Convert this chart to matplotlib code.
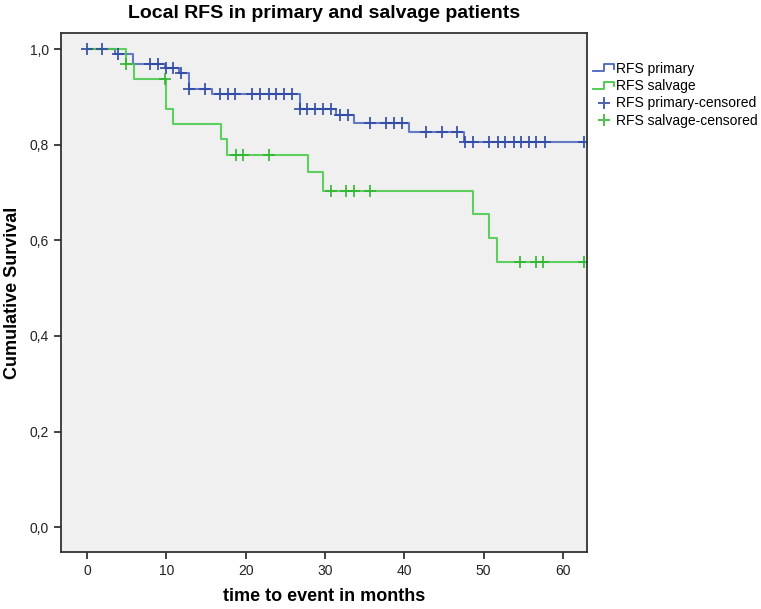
import numpy as np
import matplotlib
matplotlib.use("Agg")
import matplotlib.pyplot as plt
from matplotlib.legend_handler import HandlerBase
from matplotlib.lines import Line2D

plt.rcParams["font.family"] = ["Liberation Sans", "DejaVu Sans"]

# step times (months) and survival after each step
primary_t = [0, 3.5, 5.85, 9.8, 11.6, 12.8, 15.8, 26.8, 31.4, 33.6, 40.6, 47.5]
primary_s = [1.0, 0.99, 0.969, 0.96, 0.95, 0.916, 0.906, 0.875, 0.862, 0.846, 0.827, 0.806]
primary_cens = [0, 1.9, 3.95, 7.9, 8.9, 10.0, 10.9, 11.8, 12.8, 14.9, 16.8, 17.8, 18.7,
                20.8, 21.8, 22.9, 23.8, 24.8, 25.8, 26.8, 27.7, 28.75, 29.8, 30.8,
                31.9, 32.9, 35.7, 37.7, 38.75, 39.7, 42.7, 44.7, 46.6, 47.6, 48.6,
                50.7, 51.8, 52.7, 53.8, 54.7, 55.7, 56.6, 57.7, 62.6]

salvage_t = [0, 4.9, 5.9, 9.9, 10.9, 16.9, 17.7, 27.8, 29.8, 48.6, 50.65, 51.7]
salvage_s = [1.0, 0.969, 0.937, 0.875, 0.843, 0.811, 0.778, 0.742, 0.704, 0.655, 0.604, 0.554]
salvage_cens = [4.9, 9.8, 18.75, 19.7, 22.9, 30.8, 32.7, 33.7, 35.7, 54.6, 56.6, 57.5, 62.6]

end_time = 62.6

blue = "#4a64bd"
blue_dark = "#2d47a3"
green = "#45c845"
green_dark = "#2fb52f"


def surv_at(times, surv, t):
    idx = np.searchsorted(times, t, side="right") - 1
    return np.array(surv)[idx]


class StepHandler(HandlerBase):
    def create_artists(self, legend, orig, xd, yd, w, h, fontsize, trans):
        xs = np.array([0, 0.5, 0.5, 0.95, 0.95]) * w - xd
        ys = np.array([0.15, 0.15, 0.85, 0.85, 0.4]) * h - yd
        ln = Line2D(xs, ys, color=orig.get_color(), lw=1.3, transform=trans)
        return [ln]


fig = plt.figure(figsize=(7.61, 6.09), dpi=100)
ax = fig.add_axes([61 / 761, 1 - 552 / 609, 526 / 761, 519 / 609])
ax.set_facecolor("#f0f0f0")

pt = primary_t + [end_time]
ps = primary_s + [primary_s[-1]]
st = salvage_t + [end_time]
ss = salvage_s + [salvage_s[-1]]

l1, = ax.step(pt, ps, where="post", color=blue, lw=1.5, alpha=0.85)
l2, = ax.step(st, ss, where="post", color=green, lw=1.5, alpha=0.85)
c1, = ax.plot(primary_cens, surv_at(primary_t, primary_s, primary_cens), "+",
              color=blue_dark, ms=9, mew=1.4, alpha=0.85)
c2, = ax.plot(salvage_cens, surv_at(salvage_t, salvage_s, salvage_cens), "+",
              color=green_dark, ms=9, mew=1.4, alpha=0.85)

ax.set_xlim(-3.28, 63.03)
ax.set_ylim(-0.052, 1.0335)
ax.set_xticks(range(0, 61, 10))
ax.set_yticks(np.arange(0, 1.01, 0.2))
ax.set_yticklabels([f"{v:.1f}".replace(".", ",") for v in np.arange(0, 1.01, 0.2)])
ax.tick_params(direction="out", length=5, width=1.2, labelsize=10, colors="#222222")
for sp in ax.spines.values():
    sp.set_linewidth(1.3)
    sp.set_color("#333333")

ax.set_title("Local RFS in primary and salvage patients", fontsize=14,
             fontweight="bold", pad=11)
ax.set_xlabel("time to event in months", fontsize=13, fontweight="bold", labelpad=7)
ax.set_ylabel("Cumulative Survival", fontsize=13, fontweight="bold", labelpad=6)

fig.legend([l1, l2, c1, c2],
           ["RFS primary", "RFS salvage", "RFS primary-censored", "RFS salvage-censored"],
           handler_map={l1: StepHandler(), l2: StepHandler()},
           loc="upper left", bbox_to_anchor=(587 / 761, 1 - 56 / 609),
           frameon=False, fontsize=10, handlelength=1.6, handletextpad=0.1,
           labelspacing=0.25, borderaxespad=0)

fig.savefig("out.png", dpi=100)
